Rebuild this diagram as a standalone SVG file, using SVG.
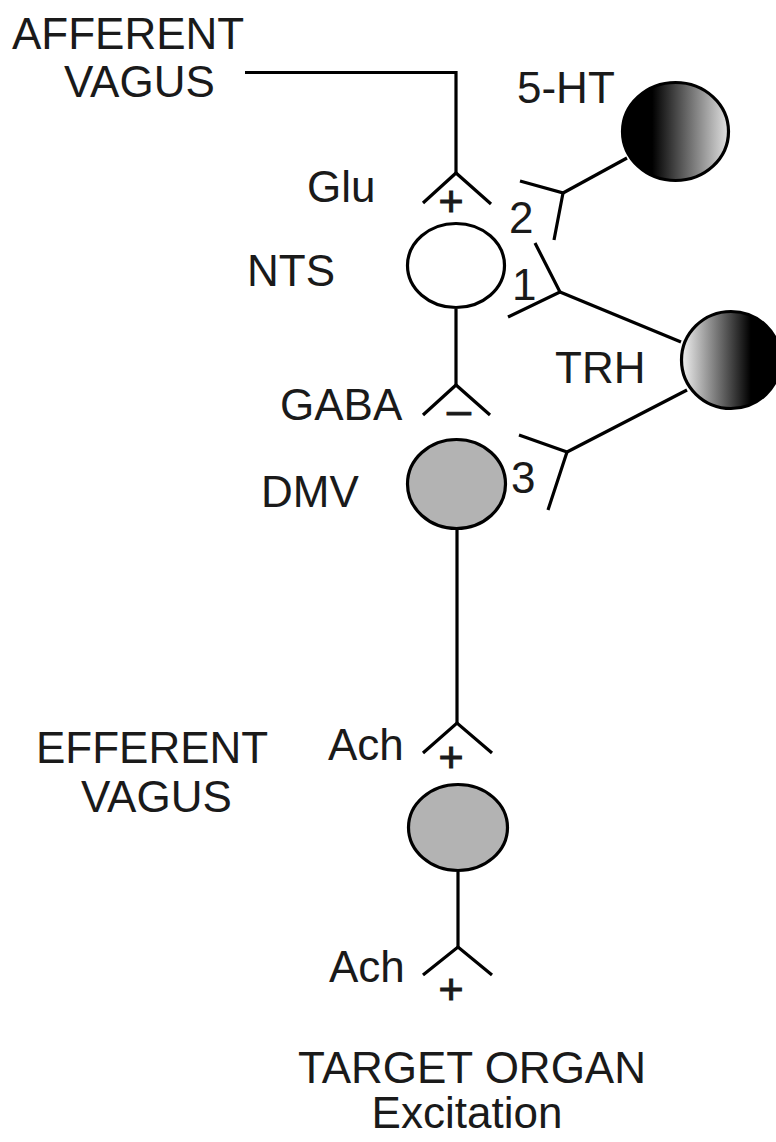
<svg xmlns="http://www.w3.org/2000/svg" width="776" height="1142" viewBox="0 0 776 1142">
  <defs>
    <linearGradient id="grad5ht" x1="0" y1="0" x2="1" y2="0">
      <stop offset="0" stop-color="#000"/>
      <stop offset="0.28" stop-color="#000"/>
      <stop offset="1" stop-color="#e2e2e2"/>
    </linearGradient>
    <linearGradient id="gradTrh" x1="0" y1="0" x2="1" y2="0">
      <stop offset="0" stop-color="#f2f2f2"/>
      <stop offset="0.7" stop-color="#000"/>
      <stop offset="1" stop-color="#000"/>
    </linearGradient>
    <style>
      text { font-family: "Liberation Sans", Arial, sans-serif; font-size: 44px; fill: #1a1a1a; }
      .sign { font-size: 43px; text-anchor: middle; stroke: #1a1a1a; stroke-width: 1; }
      .wire { fill: none; stroke: #000; stroke-width: 3.2; stroke-linejoin: miter; stroke-linecap: butt; }
      .cell { stroke: #000; stroke-width: 3.2; }
      .open { fill: #fff; }
      .grey { fill: #b3b3b3; }
    </style>
  </defs>

  <rect width="776" height="1142" fill="#fff"/>

  <!-- connectors: axons and synaptic terminals -->
  <g id="connectors">
    <!-- afferent vagus onto NTS (Glu, excitatory) -->
    <polyline class="wire" points="245,72.5 456,72.5 456,173"/>
    <polyline class="wire" points="423,203 456,173 491,204"/>
    <!-- NTS onto DMV (GABA, inhibitory) -->
    <line class="wire" x1="456" y1="309" x2="456" y2="385"/>
    <polyline class="wire" points="423,415 456,385 490,415"/>
    <!-- DMV to efferent ganglion (Ach) -->
    <line class="wire" x1="457" y1="530" x2="457" y2="723"/>
    <polyline class="wire" points="423,753 457,723 492,753"/>
    <!-- ganglion to target organ (Ach) -->
    <line class="wire" x1="458" y1="872" x2="458" y2="947"/>
    <polyline class="wire" points="423,975 458,947 492,975"/>
    <!-- 5-HT terminal (2) -->
    <line class="wire" x1="563" y1="193" x2="627" y2="158"/>
    <polyline class="wire" points="520,181 563,193 554,240"/>
    <!-- TRH terminal (1) -->
    <line class="wire" x1="560" y1="292" x2="681" y2="342"/>
    <polyline class="wire" points="535,243 560,292 508,317"/>
    <!-- TRH terminal (3) -->
    <line class="wire" x1="567" y1="452" x2="687" y2="390"/>
    <polyline class="wire" points="519,435 567,452 548,510"/>
  </g>

  <g id="afferent-vagus">
    <text x="12" y="49">AFFERENT</text>
    <text x="64" y="97">VAGUS</text>
    <text x="307" y="202">Glu</text>
    <text class="sign" x="451" y="216">+</text>
  </g>

  <g id="nts">
    <ellipse class="cell open" cx="456" cy="265.5" rx="48.5" ry="42"/>
    <text x="247" y="286">NTS</text>
    <text x="280" y="420">GABA</text>
    <text class="sign" x="459" y="424" font-size="48">–</text>
  </g>

  <g id="dmv">
    <ellipse class="cell grey" cx="456.5" cy="484" rx="49" ry="44.5"/>
    <text x="261" y="507">DMV</text>
  </g>

  <g id="efferent-vagus">
    <text x="36" y="763">EFFERENT</text>
    <text x="81" y="812">VAGUS</text>
    <text x="328" y="760">Ach</text>
    <text class="sign" x="451" y="772">+</text>
    <ellipse class="cell grey" cx="458" cy="827.5" rx="49.5" ry="43"/>
    <text x="329" y="982">Ach</text>
    <text class="sign" x="451" y="1004">+</text>
  </g>

  <g id="serotonin-neuron">
    <ellipse class="cell" fill="url(#grad5ht)" cx="675.5" cy="131.5" rx="53" ry="49"/>
    <text x="517" y="103">5-HT</text>
    <text x="509" y="233">2</text>
  </g>

  <g id="trh-neuron">
    <ellipse class="cell" fill="url(#gradTrh)" cx="731" cy="360" rx="49.5" ry="48.5"/>
    <text x="555" y="383">TRH</text>
    <text x="512" y="300">1</text>
    <text x="511" y="493">3</text>
  </g>

  <g id="target-organ">
    <text x="472" y="1083" text-anchor="middle">TARGET ORGAN</text>
    <text x="467" y="1128" text-anchor="middle">Excitation</text>
  </g>
</svg>
